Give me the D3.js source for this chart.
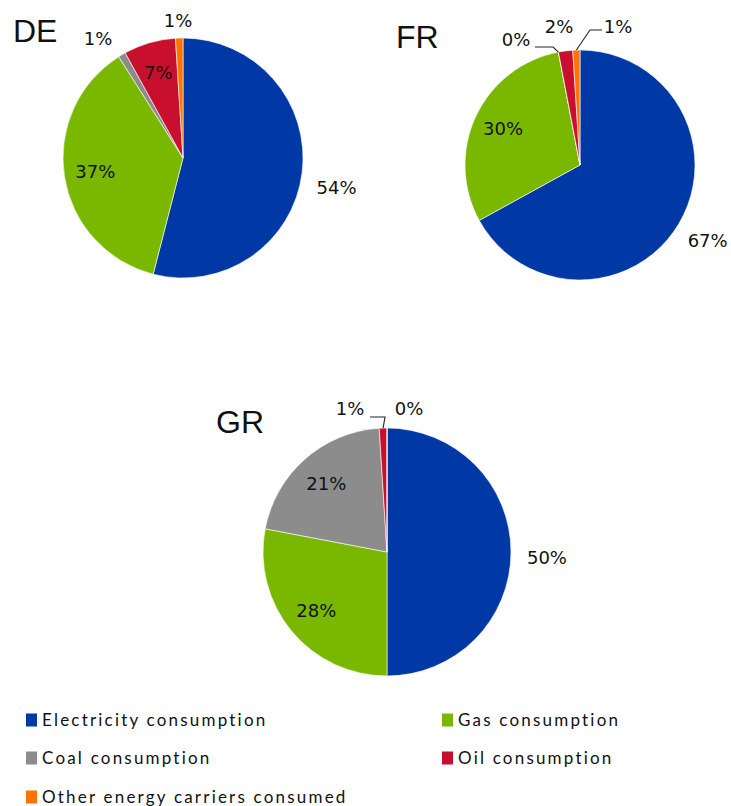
<!DOCTYPE html>
<html><head><meta charset="utf-8">
<script src="https://cdn.jsdelivr.net/npm/d3@7/dist/d3.min.js"></script>
<style>
html,body{margin:0;padding:0;background:#fff;}
svg{display:block;}
</style></head>
<body>
<script>
// ---- data ----
const categories = ["Electricity consumption","Gas consumption","Coal consumption","Oil consumption","Other energy carriers consumed"];
const countries = ["DE","FR","GR"];
const valuesDE = [54,37,1,7,1];
const valuesFR = [67,30,0,2,1];
const valuesGR = [50,28,21,1,0];
const colors = ["#0039A6","#7AB800","#8C8C8C","#C8102E","#FF7300"];

// ---- layout ----
const W = 731, H = 806;
const pies = [
  {name:"DE", values:valuesDE, cx:183, cy:158, r:120, title:[13,42],
   // label mode per category: "in" centroid, "out" outside, or [dx,dy] free offset from centre
   labels:["out","in",[-85,-119],"in",[-5,-137]], outNudge:[0,10],
   leaders:[]},
  {name:"FR", values:valuesFR, cx:580, cy:165, r:115, title:[396,48],
   labels:["out","in",[-64,-125],[-21,-138.5],[38,-138.5]], outNudge:[0,0],
   leaders:[{i:2, pts:[[-45,-118],[-27,-118]]},{i:4, pts:[[22,-135],[10,-135]]}]},
  {name:"GR", values:valuesGR, cx:387, cy:552, r:124, title:[216,433],
   labels:["out","in","in",[-37,-143],[22,-143]], outNudge:[0,6],
   leaders:[{i:3, pts:[[-17,-135],[-2,-135]]}]}
];

const svg = d3.select("body").append("svg").attr("width",W).attr("height",H);

const pie = d3.pie().sort(null).value(d=>d);

pies.forEach(p=>{
  const g = svg.append("g").attr("transform",`translate(${p.cx},${p.cy})`);
  const arcs = pie(p.values);
  const arc = d3.arc().innerRadius(0).outerRadius(p.r);
  const inArc = d3.arc().innerRadius(p.r*0.74).outerRadius(p.r*0.74);
  const outArc = d3.arc().innerRadius(p.r*1.29).outerRadius(p.r*1.29);
  const edgeArc = d3.arc().innerRadius(p.r).outerRadius(p.r);

  g.selectAll("path.slice").data(arcs).join("path")
    .attr("class","slice")
    .attr("d",arc)
    .attr("fill",(d,i)=>colors[i])
    .attr("stroke","#fff").attr("stroke-width",0.6);

  // leader lines
  p.leaders.forEach(L=>{
    const end = edgeArc.centroid(arcs[L.i]);
    const pts = L.pts.concat([end]);
    g.append("path").attr("d",d3.line()(pts))
      .attr("fill","none").attr("stroke","#222").attr("stroke-width",1.1);
  });

  // labels
  arcs.forEach((d,i)=>{
    const m = p.labels[i];
    let pos;
    if (m==="in") pos = inArc.centroid(d);
    else if (m==="out") { const c = outArc.centroid(d); pos=[c[0]+p.outNudge[0], c[1]+p.outNudge[1]]; }
    else pos = m;
    g.append("text").attr("x",pos[0]).attr("y",pos[1]).attr("dy","0.36em")
      .attr("text-anchor","middle")
      .attr("font-family","DejaVu Sans, Verdana, sans-serif")
      .attr("font-size",18).attr("fill","#111")
      .text(d.data + "%");
  });

  svg.append("text").attr("x",p.title[0]).attr("y",p.title[1])
    .attr("font-family","Liberation Sans, Arial, sans-serif")
    .attr("font-size",32).attr("fill","#111").text(p.name);
});

// legend
const legendPos = [[26,720],[442,720],[26,758],[442,758],[26,797]];
const lg = svg.append("g");
categories.forEach((c,i)=>{
  const [x,y] = legendPos[i];
  lg.append("rect").attr("x",x).attr("y",y-6.5).attr("width",11).attr("height",13).attr("fill",colors[i]);
  lg.append("text").attr("x",x+16).attr("y",y).attr("dy","0.36em")
    .attr("font-family","Lato, Open Sans, sans-serif")
    .attr("font-size",17).attr("letter-spacing","2.2px").attr("fill","#111").text(c);
});
</script>
</body></html>
